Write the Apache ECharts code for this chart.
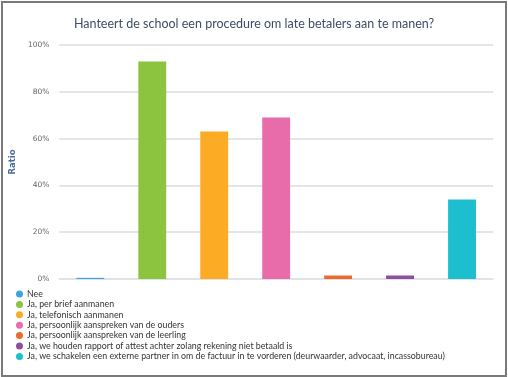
<!DOCTYPE html>
<html>
<head>
<meta charset="utf-8">
<script src="https://cdn.jsdelivr.net/npm/echarts@6/dist/echarts.min.js"></script>
<style>
  html,body{margin:0;padding:0;background:#fff;}
  #frame{position:absolute;left:1px;top:1px;width:506px;height:376px;box-sizing:border-box;border:2px solid #7a7a7a;}
  #main{position:absolute;left:0;top:0;width:508px;height:377px;}
</style>
</head>
<body>
<div id="main"></div>
<div id="frame"></div>
<script>
// antwoorden
const categories = [
  'Nee',
  'Ja, per brief aanmanen',
  'Ja, telefonisch aanmanen',
  'Ja, persoonlijk aanspreken van de ouders',
  'Ja, persoonlijk aanspreken van de leerling',
  'Ja, we houden rapport of attest achter zolang rekening niet betaald is',
  'Ja, we schakelen een externe partner in om de factuur in te vorderen (deurwaarder, advocaat, incassobureau)'
];
const ratios = [0.5, 93, 63, 69, 1.5, 1.5, 34]; // in %
const colors = ['#3aa6dd', '#8cc43f', '#fbab24', '#e86ca9', '#ec6a2c', '#8e4f9f', '#1dbfcf'];
const yTicks = [0, 20, 40, 60, 80, 100];

const chart = echarts.init(document.getElementById('main'));

// elke categorie een eigen serie zodat de legende werkt
let series = categories.map((name, i) => ({
  name: name,
  type: 'bar',
  stack: 'all',
  barWidth: '45%',
  itemStyle: {color: colors[i]},
  data: categories.map((c, j) => j == i ? ratios[i] : '-')
}));

const option = {
  animation: false,
  title: {
    text: 'Hanteert de school een procedure om late betalers aan te manen?',
    left: 'center',
    top: 12,
    textStyle: {fontFamily: 'Lato', fontSize: 12.5, fontWeight: 'normal', color: '#3c4f66'}
  },
  grid: {left: 53, right: 15, top: 45, bottom: 98},
  legend: {
    orient: 'vertical',
    left: 11,
    top: 284,
    itemWidth: 7,
    itemHeight: 7,
    itemGap: 0.4,
    icon: 'circle',
    textStyle: {fontFamily: 'Lato', fontSize: 8.8, lineHeight: 10, color: '#333', padding: [0, 0, 0, -1]},
    data: categories
  },
  xAxis: {
    type: 'category',
    data: categories,
    axisLabel: {show: false},
    axisTick: {alignWithLabel: true, length: 3, lineStyle: {color: '#dde2e8'}},
    axisLine: {lineStyle: {color: '#dde2e8', width: 1.5}}
  },
  yAxis: {
    type: 'value',
    min: yTicks[0],
    max: yTicks[yTicks.length - 1],
    interval: 20,
    name: 'Ratio',
    nameLocation: 'middle',
    nameRotate: 90,
    nameGap: 32,
    nameTextStyle: {fontFamily: 'DejaVu Sans', fontSize: 8.5, fontWeight: 'bold', color: '#4a6c9b'},
    axisLabel: {formatter: '{value}%', fontFamily: 'DejaVu Sans', fontSize: 7.5, color: '#666', margin: 10},
    axisLine: {show: false},
    axisTick: {show: false},
    splitLine: {lineStyle: {color: '#dcdcdc', width: 1.5}}
  },
  series: series
};
chart.setOption(option);
</script>
</body>
</html>
